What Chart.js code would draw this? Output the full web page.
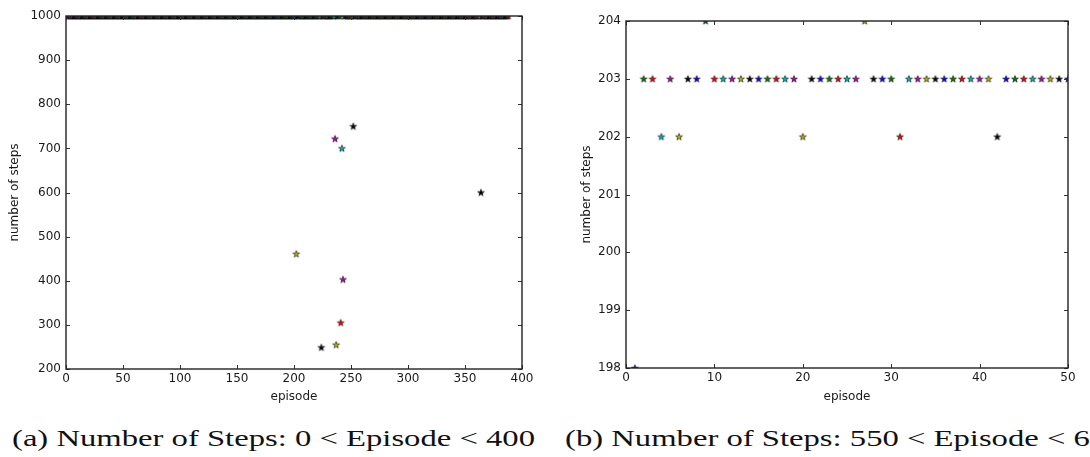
<!DOCTYPE html>
<html>
<head>
<meta charset="utf-8">
<script src="https://cdn.jsdelivr.net/npm/chart.js@4.4.1/dist/chart.umd.min.js"></script>
<style>
  html, body { margin: 0; padding: 0; background: #fff; }
  body { width: 1090px; height: 457px; position: relative; overflow: hidden; }
  canvas { position: absolute; }
  .caption {
    position: absolute; top: 426px; white-space: nowrap;
    font-family: "Liberation Serif", "DejaVu Serif", serif; font-size: 24px; line-height: 24px;
    color: #111; transform-origin: 0 0;
  }
</style>
</head>
<body>
<canvas id="chart-a" width="545" height="410" style="left:0;top:0"></canvas>
<canvas id="chart-b" width="520" height="410" style="left:570px;top:0"></canvas>
<div class="caption" id="cap-a" style="left:12px">(a) Number of Steps: 0 &lt; Episode &lt; 400</div>
<div class="caption" id="cap-b" style="left:565px">(b) Number of Steps: 550 &lt; Episode &lt; 600</div>

<script>
// --- DADOS ---

// (a) episódios 1..388: quase todos batem no teto de 1000 passos
const epLastA = 388;
const capStepsA = 1000;
const outlierEpisodesA = [202, 224, 236, 237, 241, 242, 243, 252, 364];
const outlierStepsA    = [461, 249, 722, 255, 305, 700, 403, 750, 600];
const xTicksA = [0, 50, 100, 150, 200, 250, 300, 350, 400];
const yTicksA = [200, 300, 400, 500, 600, 700, 800, 900, 1000];

// (b) episódios 1..50 (offset a partir de 550)
const episodesB = [1, 2, 3, 4, 5, 6, 7, 8, 9, 10, 11, 12, 13, 14, 15, 16, 17, 18, 19, 20, 21, 22, 23, 24, 25,
                   26, 27, 28, 29, 30, 31, 32, 33, 34, 35, 36, 37, 38, 39, 40, 41, 42, 43, 44, 45, 46, 47, 48, 49, 50];
const stepsB = [198, 203, 203, 202, 203, 202, 203, 203, 204, 203, 203, 203, 203, 203, 203, 203, 203, 203, 203, 202,
                203, 203, 203, 203, 203, 203, 204, 203, 203, 203, 202, 203, 203, 203, 203, 203, 203, 203, 203, 203,
                203, 202, 203, 203, 203, 203, 203, 203, 203, 203];
const xTicksB = [0, 10, 20, 30, 40, 50];
const yTicksB = [198, 199, 200, 201, 202, 203, 204];

// ciclo de cores clássico do matplotlib (b, g, r, c, m, y, k)
const cycleColors = ['#0000ff', '#008000', '#ff0000', '#00bfbf', '#bf00bf', '#bfbf00', '#000000'];

// --- ESTRELAS (pointStyle como canvas) ---

function makeStar(color) {
    const c = document.createElement('canvas');
    c.width = 10; c.height = 10;
    const g = c.getContext('2d');
    const R = 3.6, r = R * 0.382;
    g.beginPath();
    for (let i = 0; i < 10; i++) {
        const rad = i % 2 === 0 ? R : r;
        const ang = -Math.PI / 2 + i * Math.PI / 5;
        const px = 5 + rad * Math.cos(ang), py = 5.3 + rad * Math.sin(ang);
        if (i === 0) g.moveTo(px, py); else g.lineTo(px, py);
    }
    g.closePath();
    g.fillStyle = color;
    g.fill();
    g.lineWidth = 0.6;
    g.strokeStyle = '#000';
    g.stroke();
    return c;
}
const starImgs = cycleColors.map(makeStar);

// moldura + ticks para dentro nos 4 lados (estilo matplotlib)
const framePlugin = {
    id: 'frame',
    afterDatasetsDraw(chart) {
        const { ctx, chartArea: a, scales: { x, y } } = chart;
        ctx.save();
        ctx.strokeStyle = '#333';
        ctx.lineWidth = 1;
        ctx.beginPath();
        x.ticks.forEach(t => {
            const px = Math.round(x.getPixelForValue(t.value)) + 0.5;
            ctx.moveTo(px, a.bottom); ctx.lineTo(px, a.bottom - 4);
            ctx.moveTo(px, a.top); ctx.lineTo(px, a.top + 4);
        });
        y.ticks.forEach(t => {
            const py = Math.round(y.getPixelForValue(t.value)) + 0.5;
            ctx.moveTo(a.left, py); ctx.lineTo(a.left + 4, py);
            ctx.moveTo(a.right, py); ctx.lineTo(a.right - 4, py);
        });
        ctx.stroke();
        ctx.strokeStyle = '#222';
        ctx.lineWidth = 1.4;
        ctx.strokeRect(a.left, a.top, a.right - a.left, a.bottom - a.top);
        ctx.restore();
    }
};

function buildScatter(canvasId, points, cfg) {
    const tickFont = { family: '"DejaVu Sans", sans-serif', size: 12 };
    const forceTicks = (list) => (scale) => { scale.ticks = list.map(v => ({ value: v })); };
    const plainLabel = (v) => String(v); // sem separador de milhar (1000, não 1,000)
    return new Chart(document.getElementById(canvasId), {
        type: 'scatter',
        data: {
            datasets: [{
                data: points,
                pointStyle: (c) => starImgs[(c.raw.x - 1) % 7],
                pointRadius: 4,
                clip: 0
            }]
        },
        options: {
            responsive: false,
            animation: false,
            events: [],
            layout: { padding: cfg.padding },
            plugins: { legend: { display: false }, tooltip: { enabled: false } },
            scales: {
                x: {
                    type: 'linear', min: cfg.xTicks[0], max: cfg.xTicks[cfg.xTicks.length - 1],
                    grid: { display: false, drawTicks: false },
                    border: { display: false },
                    afterBuildTicks: forceTicks(cfg.xTicks),
                    afterFit: (s) => { s.height = cfg.xHeight; },
                    ticks: { font: tickFont, color: '#1a1a1a', padding: 3, autoSkip: false, maxRotation: 0, callback: plainLabel },
                    title: { display: true, text: 'episode', font: tickFont, color: '#1a1a1a', padding: { top: 0, bottom: 6 } }
                },
                y: {
                    type: 'linear', min: cfg.yTicks[0], max: cfg.yTicks[cfg.yTicks.length - 1],
                    grid: { display: false, drawTicks: false },
                    border: { display: false },
                    afterBuildTicks: forceTicks(cfg.yTicks),
                    afterFit: (s) => { s.width = cfg.yWidth; },
                    ticks: { font: tickFont, color: '#1a1a1a', padding: 5, autoSkip: false, callback: plainLabel },
                    title: { display: true, text: 'number of steps', font: tickFont, color: '#1a1a1a', padding: { top: cfg.yTitlePad, bottom: 0 } }
                }
            }
        },
        plugins: [framePlugin]
    });
}

// (a) monta pontos: teto de 1000 exceto os episódios fora da curva
const pointsA = [];
for (let ep = 1; ep <= epLastA; ep++) {
    const k = outlierEpisodesA.indexOf(ep);
    pointsA.push({ x: ep, y: k >= 0 ? outlierStepsA[k] : capStepsA });
}
const pointsB = episodesB.map((ep, i) => ({ x: ep, y: stepsB[i] }));

buildScatter('chart-a', pointsA, {
    xTicks: xTicksA, yTicks: yTicksA,
    padding: { left: 0, right: 23, top: 16, bottom: 0 },
    yWidth: 66, xHeight: 41, yTitlePad: 8
});
buildScatter('chart-b', pointsB, {
    xTicks: xTicksB, yTicks: yTicksB,
    padding: { left: 0, right: 22, top: 21, bottom: 0 },
    yWidth: 56, xHeight: 42, yTitlePad: 9.5
});

// legenda em estilo LaTeX: estica na horizontal para a largura do original
const capA = document.getElementById('cap-a');
const capB = document.getElementById('cap-b');
const sx = 523 / capA.getBoundingClientRect().width;
capA.style.transform = `scaleX(${sx})`;
capB.style.transform = `scaleX(${sx})`;
</script>
</body>
</html>
